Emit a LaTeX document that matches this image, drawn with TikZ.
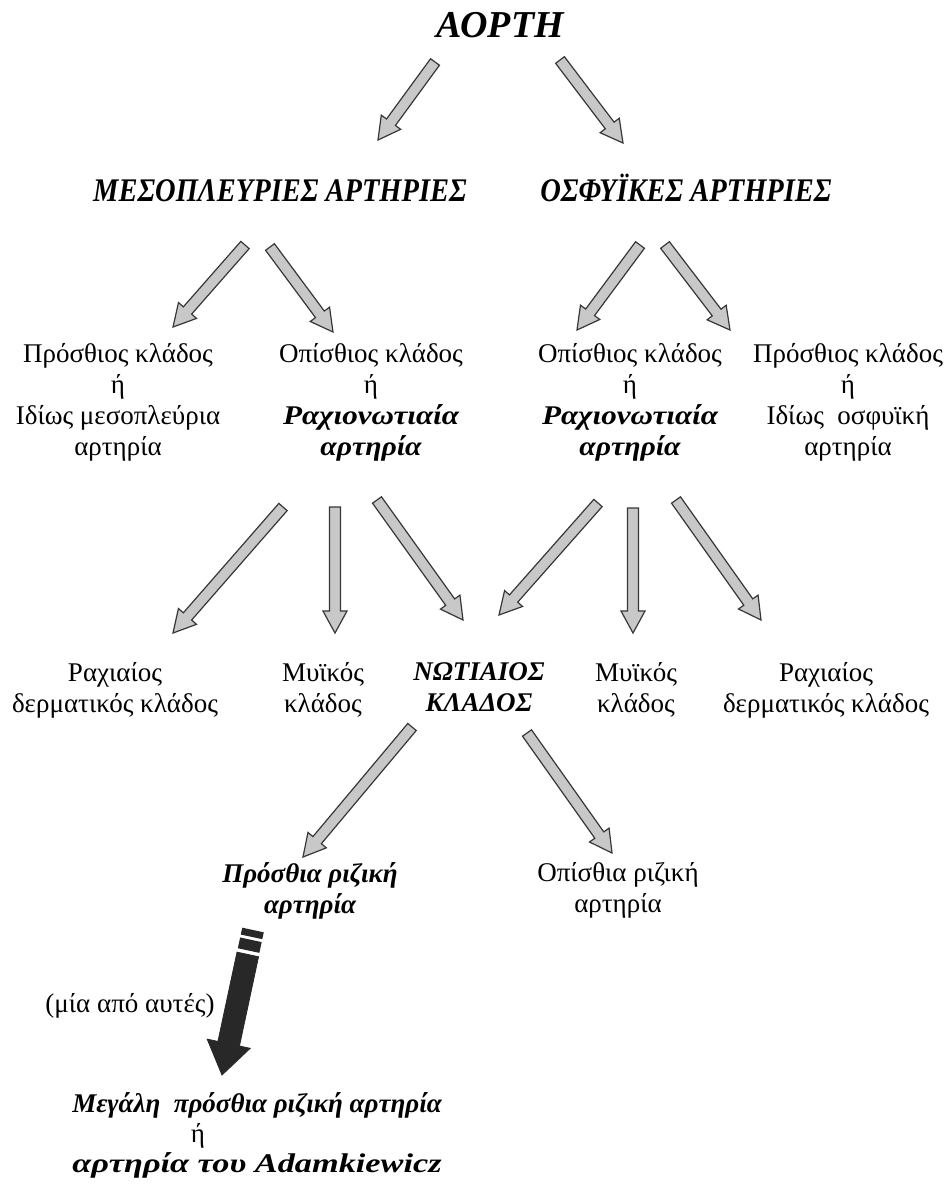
\documentclass[tikz,border=0pt]{standalone}
\usepackage{fontspec}
\setmainfont{Liberation Serif}
\usetikzlibrary{calc}
\definecolor{arrfill}{RGB}{200,200,200}
\definecolor{arrline}{RGB}{55,55,55}
\definecolor{darkfill}{RGB}{40,40,40}
\newcommand\fatarrow[6][]{%
  \coordinate (fah) at ($(#3)!#6!(#2)$);
  \draw[#1] ($(#2)!#4!90:(#3)$) -- ($(fah)!#4!90:(#3)$) -- ($(fah)!#5!90:(#3)$) -- (#3)
    -- ($(fah)!#5!-90:(#3)$) -- ($(fah)!#4!-90:(#3)$) -- ($(#2)!#4!-90:(#3)$) -- cycle;
}
\newcommand\grarrow[2]{\fatarrow[garrow]{#1}{#2}{5.5pt}{12pt}{22pt}}
\newcommand\widebi[2]{\scalebox{#1}[1]{\bfseries\itshape #2}}
\begin{document}
\begin{tikzpicture}[x=1pt,y=-1pt,
  txt/.style={font=\fontsize{27}{31}\selectfont, align=center, inner sep=0pt},
  bitxt/.style={font=\fontsize{27}{31}\selectfont\bfseries\itshape, align=center, inner sep=0pt},
  headtxt/.style={font=\fontsize{30}{32}\selectfont\bfseries\itshape, inner sep=0pt, anchor=base},
  garrow/.style={fill=arrfill, draw=arrline, line width=1.2pt, line join=miter},
  darrow/.style={fill=darkfill, draw=darkfill, line width=0.8pt, line join=miter}]
\useasboundingbox[fill=white] (0,0) rectangle (952,1184);

% texts
\node[bitxt, font=\fontsize{38}{40}\selectfont\bfseries\itshape, anchor=base] (aorti) at (500,37) {ΑΟΡΤΗ};
\node[headtxt] (mes) at (280,201) {\scalebox{0.95}[1.1]{ΜΕΣΟΠΛΕΥΡΙΕΣ ΑΡΤΗΡΙΕΣ}};
\node[headtxt] (osf) at (686,201) {\scalebox{0.95}[1.1]{ΟΣΦΥΪΚΕΣ ΑΡΤΗΡΙΕΣ}};

\node[txt, anchor=north] (pa) at (118,343) {Πρόσθιος κλάδος\\ή\\Ιδίως μεσοπλεύρια\\αρτηρία};
\node[txt, anchor=north] (pb) at (371,343) {Οπίσθιος κλάδος\\ή\\\widebi{1.15}{Ραχιονωτιαία}\\\widebi{1.1}{αρτηρία}};
\node[txt, anchor=north] (pc) at (630,343) {Οπίσθιος κλάδος\\ή\\\widebi{1.15}{Ραχιονωτιαία}\\\widebi{1.1}{αρτηρία}};
\node[txt, anchor=north] (pd) at (848,343) {Πρόσθιος κλάδος\\ή\\Ιδίως\ \ οσφυϊκή\\αρτηρία};

\node[txt, anchor=north] (ra) at (115,662) {Ραχιαίος\\δερματικός κλάδος};
\node[txt, anchor=north] (ma) at (323,662) {Μυϊκός\\κλάδος};
\node[bitxt, anchor=north] (nk) at (479,662) {ΝΩΤΙΑΙΟΣ\\ΚΛΑΔΟΣ};
\node[txt, anchor=north] (mb) at (636,662) {Μυϊκός\\κλάδος};
\node[txt, anchor=north] (rb) at (826,662) {Ραχιαίος\\δερματικός κλάδος};

\node[bitxt, anchor=north] (prr) at (310,862) {Πρόσθια ριζική\\αρτηρία};
\node[txt, anchor=north] (orr) at (618,862) {Οπίσθια ριζική\\αρτηρία};

\node[txt, anchor=base] (one) at (130,1012) {(μία από αυτές)};
\node[bitxt, anchor=base] (fin1) at (257,1112) {Μεγάλη\ \ πρόσθια ριζική αρτηρία};
\node[txt, anchor=base] (fin2) at (198,1142) {ή};
\node[txt, anchor=base] (fin3) at (257,1172) {\widebi{1.27}{αρτηρία του Adamkiewicz}};

% arrow end points
\coordinate (a1s) at (435,62);  \coordinate (a1e) at (378,140);
\coordinate (a2s) at (560,60);  \coordinate (a2e) at (623,143);
\coordinate (b1s) at (245,245); \coordinate (b1e) at (173,327);
\coordinate (b2s) at (270,247); \coordinate (b2e) at (333,332);
\coordinate (b3s) at (640,245); \coordinate (b3e) at (577,330);
\coordinate (b4s) at (665,245); \coordinate (b4e) at (730,330);
\coordinate (c1s) at (283,507); \coordinate (c1e) at (173,633);
\coordinate (c2s) at (335,507); \coordinate (c2e) at (335,633);
\coordinate (c3s) at (377,500); \coordinate (c3e) at (463,620);
\coordinate (c4s) at (598,503); \coordinate (c4e) at (499,615);
\coordinate (c5s) at (633,508); \coordinate (c5e) at (633,633);
\coordinate (c6s) at (676,500); \coordinate (c6e) at (761,620);
\coordinate (d1s) at (412,727); \coordinate (d1e) at (303,857);
\coordinate (d2s) at (527,733); \coordinate (d2e) at (612,853);

\grarrow{a1s}{a1e}
\grarrow{a2s}{a2e}
\grarrow{b1s}{b1e}
\grarrow{b2s}{b2e}
\grarrow{b3s}{b3e}
\grarrow{b4s}{b4e}
\grarrow{c1s}{c1e}
\grarrow{c2s}{c2e}
\grarrow{c3s}{c3e}
\grarrow{c4s}{c4e}
\grarrow{c5s}{c5e}
\grarrow{c6s}{c6e}
\grarrow{d1s}{d1e}
\grarrow{d2s}{d2e}

% black arrow
\coordinate (k0) at (253,930);
\coordinate (kT) at (222,1075);
\coordinate (kS) at ($(k0)!25pt!(kT)$);
\draw[darkfill, line width=22pt] (k0) -- ($(k0)!7pt!(kT)$);
\draw[darkfill, line width=22pt] ($(k0)!10pt!(kT)$) -- ($(k0)!21pt!(kT)$);
\fatarrow[darrow]{kS}{kT}{11pt}{22pt}{32pt}
\end{tikzpicture}
\end{document}
